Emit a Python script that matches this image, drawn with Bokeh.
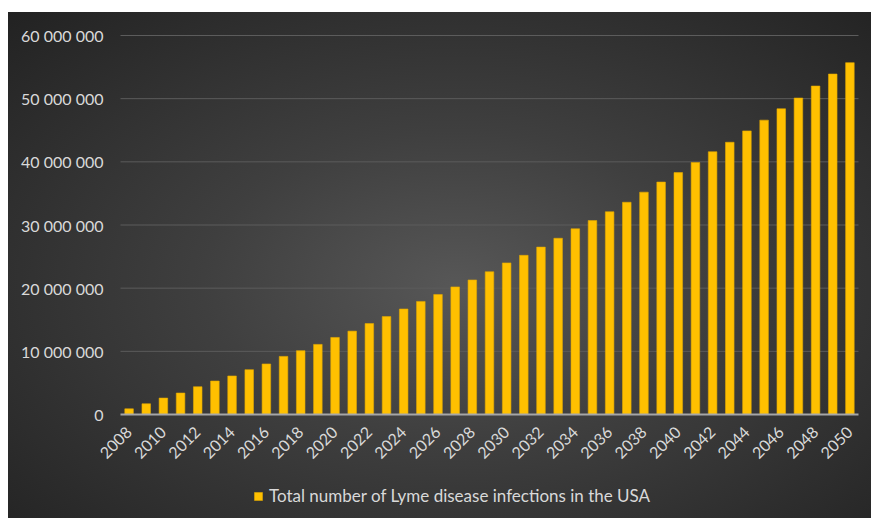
from math import pi
from bokeh.plotting import figure
from bokeh.models import Range1d, FixedTicker, Legend, LegendItem, ColumnDataSource
from bokeh.embed import file_html
from bokeh.resources import INLINE

years = [2008, 2009, 2010, 2011, 2012, 2013, 2014, 2015, 2016, 2017,
         2018, 2019, 2020, 2021, 2022, 2023, 2024, 2025, 2026, 2027,
         2028, 2029, 2030, 2031, 2032, 2033, 2034, 2035, 2036, 2037,
         2038, 2039, 2040, 2041, 2042, 2043, 2044, 2045, 2046, 2047,
         2048, 2049, 2050]
infections = [900000, 1700000, 2600000, 3400000, 4400000, 5300000, 6100000, 7100000, 8000000, 9200000,
              10100000, 11100000, 12200000, 13200000, 14400000, 15500000, 16700000, 17900000, 19000000, 20200000,
              21300000, 22600000, 24000000, 25200000, 26500000, 27900000, 29400000, 30700000, 32100000, 33600000,
              35200000, 36800000, 38300000, 39900000, 41600000, 43100000, 44900000, 46600000, 48400000, 50100000,
              52000000, 53900000, 55700000]
x_ticks = [2008, 2010, 2012, 2014, 2016, 2018, 2020, 2022, 2024, 2026, 2028,
           2030, 2032, 2034, 2036, 2038, 2040, 2042, 2044, 2046, 2048, 2050]
y_ticks = [0, 10000000, 20000000, 30000000, 40000000, 50000000, 60000000]
y_tick_labels = ["0", "10 000 000", "20 000 000", "30 000 000", "40 000 000", "50 000 000", "60 000 000"]
series_name = "Total number of Lyme disease infections in the USA"

FONT = "Lato"
TXT = "#d9d9d9"

# layout in pixels: figure size and plot-area edges inside the figure
W, H = 863, 506
LEFT, RIGHT, TOP, ZERO = 112, 850, 23, 402
x_lo, x_hi = years[0] - 0.5, years[-1] + 0.5
px_x = (RIGHT - LEFT) / (x_hi - x_lo)
y_top = y_ticks[-1]
px_y = (ZERO - TOP) / y_top

src = ColumnDataSource(data=dict(year=years, value=infections))
grid_src = ColumnDataSource(data=dict(y=y_ticks[1:], x0=[x_lo] * (len(y_ticks) - 1),
                                      x1=[x_hi] * (len(y_ticks) - 1)))

p = figure(width=W, height=H, output_backend="svg", toolbar_location=None,
           x_range=Range1d(x_lo - LEFT / px_x, x_hi + (W - RIGHT) / px_x),
           y_range=Range1d(-(H - ZERO) / px_y, y_top + TOP / px_y),
           min_border_left=0, min_border_right=0, min_border_top=0, min_border_bottom=0)
p.styles = {"margin-top": "12px", "margin-left": "8px",
            "background": "radial-gradient(ellipse farthest-corner at 52% 54%, #575757 0%, #3f3f3f 40%, #222222 100%)"}
p.background_fill_alpha = 0
p.border_fill_alpha = 0
p.outline_line_color = None
p.grid.visible = False

# horizontal gridlines across the plot area only
p.segment(x0="x0", x1="x1", y0="y", y1="y", source=grid_src, line_color="#5c5c5c", line_width=1)

r = p.vbar(x="year", top="value", width=0.5, bottom=0, source=src,
           fill_color="#FFC000", line_color="#E0A800", line_width=0.6)

p.yaxis.fixed_location = x_lo
p.yaxis.ticker = FixedTicker(ticks=y_ticks)
p.yaxis.major_label_overrides = {t: l for t, l in zip(y_ticks, y_tick_labels)}
p.yaxis.axis_line_color = None
p.yaxis.major_tick_line_color = None
p.yaxis.minor_tick_line_color = None
p.yaxis.major_tick_out = 0
p.yaxis.major_tick_in = 0
p.yaxis.major_label_standoff = 17
p.yaxis.major_label_text_font = FONT
p.yaxis.major_label_text_font_size = "16px"
p.yaxis.major_label_text_color = TXT

p.xaxis.fixed_location = 0
p.xaxis.bounds = (x_lo, x_hi)
p.xaxis.ticker = FixedTicker(ticks=x_ticks)
p.xaxis.axis_line_color = "#a6a6a6"
p.xaxis.axis_line_width = 2
p.xaxis.major_tick_line_color = None
p.xaxis.minor_tick_line_color = None
p.xaxis.major_tick_out = 0
p.xaxis.major_tick_in = 0
p.xaxis.major_label_orientation = pi / 4
p.xaxis.major_label_standoff = 15
p.xaxis.major_label_text_font = FONT
p.xaxis.major_label_text_font_size = "16px"
p.xaxis.major_label_text_color = TXT

legend = Legend(items=[LegendItem(label=series_name, renderers=[r])],
                location=(245, 12), orientation="horizontal",
                background_fill_alpha=0, border_line_color=None,
                padding=0, margin=0, glyph_width=10, glyph_height=10, label_standoff=6,
                label_text_font=FONT, label_text_font_size="17px", label_text_color=TXT)
p.add_layout(legend, "center")

open("out.html", "w").write(file_html(p, INLINE))
